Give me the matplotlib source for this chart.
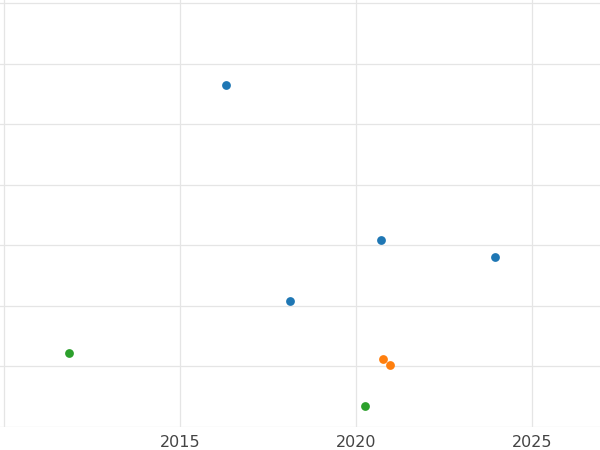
import matplotlib
matplotlib.use("Agg")
import matplotlib.pyplot as plt

blue_x = [2016.31, 2020.71, 2023.95, 2018.13]
blue_y = [5.64, 3.09, 2.80, 2.08]
orange_x = [2020.77, 2020.97]
orange_y = [1.12, 1.02]
green_x = [2011.85, 2020.26]
green_y = [1.22, 0.35]
xticks = [2010, 2015, 2020, 2025]
xticklabels = ["", "2015", "2020", "2025"]

fig = plt.figure(figsize=(6, 4.5), dpi=100)
ax = fig.add_axes([0, 23/450, 1, 427/450])
for x, y, c in [(blue_x, blue_y, "#1f77b4"), (orange_x, orange_y, "#ff7f0e"), (green_x, green_y, "#2ca02c")]:
    ax.scatter(x, y, s=40, color=c, zorder=3, linewidths=0)
ax.set_xlim(2009.886, 2026.93)
ax.set_ylim(0, 7.05)
ax.set_xticks(xticks)
ax.set_xticklabels(xticklabels)
ax.set_yticks(range(0, 8))
ax.set_yticklabels([])
ax.grid(True, color="#e5e5e5", linewidth=0.9)
ax.set_axisbelow(True)
for s in ax.spines.values():
    s.set_visible(False)
ax.tick_params(length=0, colors="#444444", labelsize=11.5, pad=6)
fig.savefig("out.png", dpi=100)
